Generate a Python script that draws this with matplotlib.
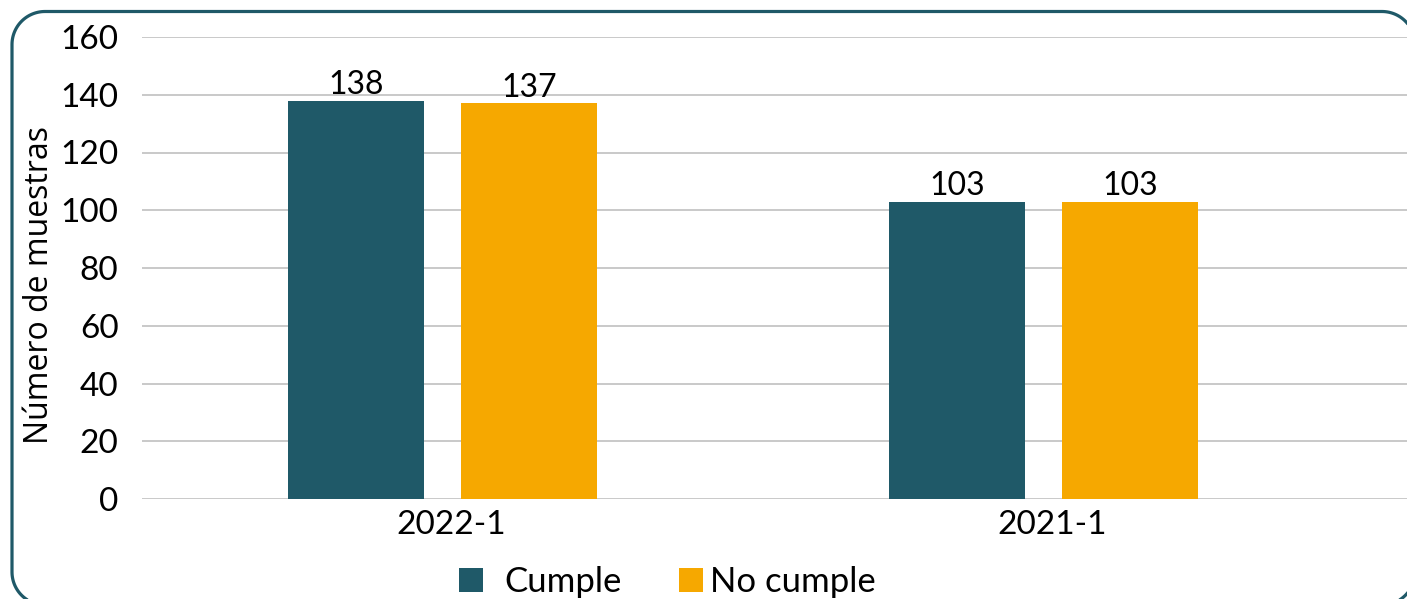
import matplotlib
matplotlib.use("Agg")
import matplotlib.pyplot as plt
from matplotlib.path import Path
from matplotlib.patches import PathPatch
import matplotlib.transforms as mtransforms
import numpy as np

categories = ["2022-1", "2021-1"]
series_names = ["Cumple", "No cumple"]
cumple = [138, 103]
no_cumple = [137, 103]
yticks = [0, 20, 40, 60, 80, 100, 120, 140, 160]

colors = ["#1F5968", "#F6A800"]
plt.rcParams['font.family'] = ['Lato', 'DejaVu Sans']

W, H = 1407, 599
fig = plt.figure(figsize=(W / 100, H / 100), dpi=100)

# overlay in pixel coordinates (y up) for the rounded border
bg = fig.add_axes([0, 0, 1, 1], zorder=-1)
bg.set_xlim(0, W)
bg.set_ylim(0, H)
bg.axis('off')
r = 33
x0, x1 = 12, 1415
y0, y1 = H - 605, H - 11.5
def arc(cx, cy, a0, a1):
    t = np.linspace(np.radians(a0), np.radians(a1), 30)
    return np.column_stack([cx + r * np.cos(t), cy + r * np.sin(t)])
pts = np.vstack([
    arc(x1 - r, y1 - r, 0, 90),
    arc(x0 + r, y1 - r, 90, 180),
    arc(x0 + r, y0 + r, 180, 270),
    arc(x1 - r, y0 + r, 270, 360),
])
pts = np.vstack([pts, pts[:1]])
bg.add_patch(PathPatch(Path(pts), fill=False, edgecolor="#1F5968", linewidth=2.3,
                       clip_on=False))

ax = fig.add_axes([142 / W, (H - 499) / H, (W - 142) / W, 462 / H])
x = np.arange(len(categories))
unit = 601.0
bw = 136 / unit
off = 86.5 / unit
b1 = ax.bar(x - off, cumple, bw, color=colors[0], label=series_names[0], zorder=3)
b2 = ax.bar(x + off, no_cumple, bw, color=colors[1], label=series_names[1], zorder=3)
for bars in (b1, b2):
    ax.bar_label(bars, padding=0.5, fontsize=23, color="black")

ax.set_xlim(-300.5 / unit, (W - 442.5) / unit)
ax.set_ylim(0, 160)
ax.set_yticks(yticks)
ax.set_xticks(x)
ax.set_xticklabels(categories)
ax.tick_params(axis='both', length=0, labelsize=24, colors="black")
ax.tick_params(axis='y', pad=17)
ax.tick_params(axis='x', pad=8)
shift = mtransforms.ScaledTranslation(9 / 100, 0, fig.dpi_scale_trans)
for lab in ax.get_xticklabels():
    lab.set_transform(lab.get_transform() + shift)
ax.grid(axis='y', color="#C0C0C0", linewidth=1.2, zorder=0)
for s in ax.spines.values():
    s.set_visible(False)
ax.set_ylabel("Número de muestras", fontsize=23, family=['Open Sans', 'DejaVu Sans'])
ax.yaxis.set_label_coords(-86 / (W - 142), (499 - 285) / 462)

leg1 = fig.legend(handles=[b1], labels=[series_names[0]], loc='center left',
                  bbox_to_anchor=(459 / W, (H - 582) / H), frameon=False,
                  fontsize=25, handlelength=0.69, handleheight=0.69,
                  handletextpad=0.63, borderaxespad=0, borderpad=0)
leg2 = fig.legend(handles=[b2], labels=[series_names[1]], loc='center left',
                  bbox_to_anchor=(679 / W, (H - 582) / H), frameon=False,
                  fontsize=25, handlelength=0.69, handleheight=0.69,
                  handletextpad=0.2, borderaxespad=0, borderpad=0)

fig.savefig("out.png", dpi=100)
